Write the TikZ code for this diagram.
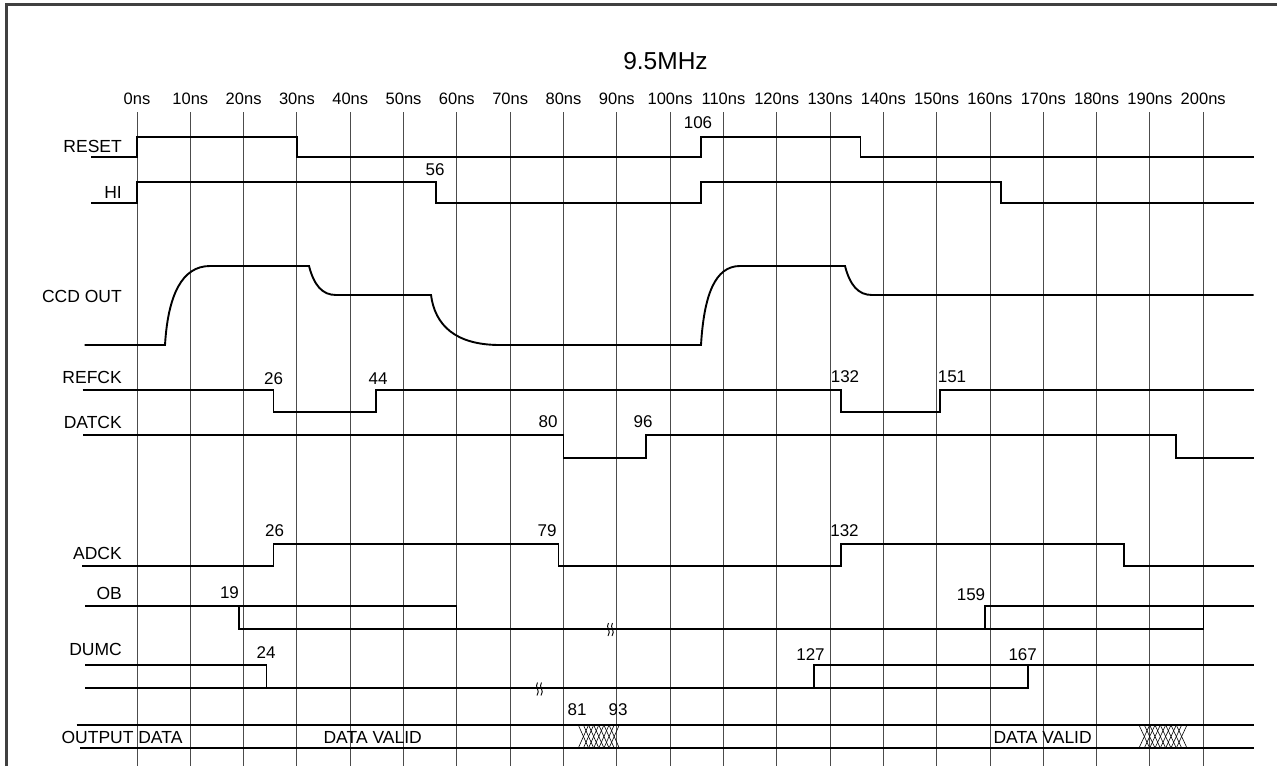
\documentclass[tikz,border=0pt]{standalone}
\usepackage{fontspec}
\setmainfont{Liberation Sans}
\begin{document}
\begin{tikzpicture}[x=1pt,y=-1pt,
  sig/.style={line width=1.9pt,black,line join=miter},
  grid/.style={line width=0.9pt,black!70},
  tlab/.style={inner sep=0pt,font=\fontsize{16.5}{18}\selectfont},
  elab/.style={inner sep=0pt,font=\fontsize{17}{18}\selectfont},
  slab/.style={inner sep=0pt,anchor=east,font=\fontsize{17.5}{19}\selectfont},
  brk/.pic={\draw[line width=0.9pt] (-1.5,-6.5) .. controls (-5,-2) and (2,1) .. (-2,6.5);
            \draw[line width=0.9pt] (2.5,-6.5) .. controls (-1,-2) and (6,1) .. (2,6.5);},
  hatch/.style={line width=0.6pt}]
\useasboundingbox (0,0) rectangle (1277,766);
% frame
\draw[line width=2.6pt,black!75] (6.5,766) -- (6.5,4.5) -- (1277,4.5);
% title
\node[inner sep=0pt,font=\fontsize{24.5}{28}\selectfont] (title) at (665.5,61) {9.5MHz};
% grid and time labels
\foreach \t in {0,...,20}{
  \pgfmathtruncatemacro\ns{10*\t}
  \draw[grid] ({137+53.31*\t},112) -- ({137+53.31*\t},766);
  \node[tlab] (t\t) at ({137+53.31*\t},99) {\ns ns};
}
% signal names
\node[slab] (nreset) at (122,146) {RESET};
\node[slab] (nhi) at (122,192) {HI};
\node[slab] (nccd) at (122,296) {CCD OUT};
\node[slab] (nrefck) at (122,377) {REFCK};
\node[slab] (ndatck) at (122,422.7) {DATCK};
\node[slab] (nadck) at (122,553) {ADCK};
\node[slab] (nob) at (122,593) {OB};
\node[slab] (ndumc) at (122,649.5) {DUMC};
\node[inner sep=0pt,font=\fontsize{17.5}{19}\selectfont] (nout) at (122,737) {OUTPUT DATA};
% RESET
\draw[sig] (91,157) -- (137,157) -- (137,137) -- (297,137) -- (297,157) -- (701,157) -- (701,137) -- (860.5,137) -- (860.5,157) -- (1253.7,157);
\node[elab] (l106) at (698,123) {106};
% HI
\draw[sig] (91,203) -- (137,203) -- (137,182) -- (435.7,182) -- (435.7,203) -- (701,203) -- (701,182) -- (1001,182) -- (1001,203) -- (1253.7,203);
\node[elab] (l56) at (435,170) {56};
% CCD OUT
\draw[sig] (84.5,345) -- (165,345) .. controls (168,295) and (182,266) .. (210,266) -- (309,266)
  .. controls (314,285) and (322,295) .. (336,295) -- (431,295)
  .. controls (435,325) and (455,345) .. (500,345) -- (701,345)
  .. controls (704,295) and (715,266) .. (740,266) -- (845,266)
  .. controls (850,285) and (858,295) .. (872,295) -- (1253.7,295);
% REFCK
\draw[sig] (82.5,390) -- (273.5,390) -- (273.5,412) -- (376,412) -- (376,390) -- (841,390) -- (841,412) -- (940,412) -- (940,390) -- (1253.7,390);
\node[elab] (r26) at (273.5,378.5) {26};
\node[elab] (r44) at (378,378.5) {44};
\node[elab] (r132) at (845,376.5) {132};
\node[elab] (r151) at (952,376.5) {151};
% DATCK
\draw[sig] (83,435) -- (563.5,435) -- (563.5,458) -- (646,458) -- (646,435) -- (1176,435) -- (1176,458) -- (1253.7,458);
\node[elab] (d80) at (548,421.7) {80};
\node[elab] (d96) at (643,421.7) {96};
% ADCK
\draw[sig] (82,566) -- (273.5,566) -- (273.5,544) -- (558.5,544) -- (558.5,566) -- (841,566) -- (841,544) -- (1124,544) -- (1124,566) -- (1253.7,566);
\node[elab] (a26) at (274.5,531) {26};
\node[elab] (a79) at (547,531) {79};
\node[elab] (a132) at (844.5,531) {132};
% OB
\draw[sig] (85,606) -- (456.5,606) -- (456.5,629);
\draw[sig] (239.3,606) -- (239.3,629) -- (1203.5,629) -- (1203.5,606);
\draw[sig] (985,629) -- (985,606) -- (1253.7,606);
\node[elab] (o19) at (229.5,592.5) {19};
\node[elab] (o159) at (971,595) {159};
\pic at (610,629.5) {brk};
% DUMC
\draw[sig] (85,665) -- (266.5,665) -- (266.5,688);
\draw[sig] (85,688) -- (1027.7,688) -- (1027.7,665);
\draw[sig] (814,688) -- (814,665) -- (1253.7,665);
\node[elab] (u24) at (266,653) {24};
\node[elab] (u127) at (810.5,655) {127};
\node[elab] (u167) at (1022.7,655) {167};
\pic at (539,689) {brk};
% OUTPUT DATA
\draw[sig] (76.7,725) -- (1253.7,725);
\draw[sig] (80,748) -- (1253.7,748);
\node[inner sep=0pt,font=\fontsize{17.5}{19}\selectfont] (dv1) at (372.7,737) {DATA VALID};
\node[inner sep=0pt,font=\fontsize{17.5}{19}\selectfont] (dv2) at (1042.6,737) {DATA VALID};
\node[elab] (h81) at (577,710) {81};
\node[elab] (h93) at (618,710) {93};
\foreach \i in {0,...,6}{
  \draw[hatch] ({578.3+\i*5.125},725) -- ({578.3+(\i+2)*5.125},748);
  \draw[hatch] ({578.3+(\i+2)*5.125},725) -- ({578.3+\i*5.125},748);
}
\foreach \i in {0,...,7}{
  \draw[hatch] ({1139+\i*5.33},725) -- ({1139+(\i+2)*5.33},748);
  \draw[hatch] ({1139+(\i+2)*5.33},725) -- ({1139+\i*5.33},748);
}
\end{tikzpicture}
\end{document}
